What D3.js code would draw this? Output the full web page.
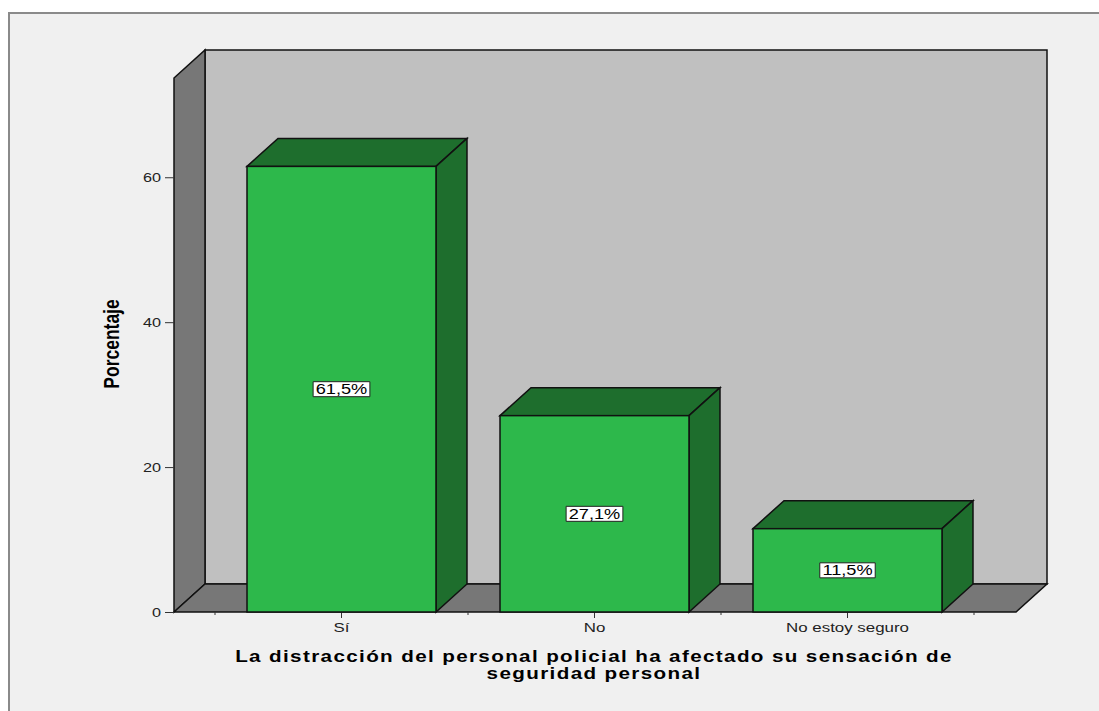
<!DOCTYPE html>
<head>
  <script src="https://cdn.jsdelivr.net/npm/d3@7"></script>
  <style>
    html, body { margin: 0; background: #fff; }
    svg { display: block; }
    .tick text { font-family: "Liberation Sans", Arial, sans-serif; font-size: 13px; fill: #222; }
  </style>
</head>
<body>
<div id="chart"></div>
<script>
  // data
  const categories = ["Sí", "No", "No estoy seguro"];
  const percents = [61.5, 27.1, 11.5];
  const valueLabels = ["61,5%", "27,1%", "11,5%"];
  const yTicks = [0, 20, 40, 60];
  const xTitle = ["La distracción del personal policial ha afectado su sensación de", "seguridad personal"];
  const yTitle = "Porcentaje";

  const width = 1099, height = 711;
  const plotL = 174, plotR = 1016, plotT = 78, plotB = 612;
  const dx = 31, dy = 28; // 3d depth offset
  const stretch = 1.3;    // the original render is widened horizontally

  const svg = d3.select("#chart").append("svg").attr("width", width).attr("height", height);

  // outer panel
  svg.append("rect").attr("x", 9).attr("y", 13).attr("width", width).attr("height", height)
    .attr("fill", "#f0f0f0").attr("stroke", "#8a8a8a").attr("stroke-width", 2);

  const y = d3.scaleLinear().domain([0, 73.7]).range([plotB, plotT]);
  const x = d3.scaleBand().domain(categories).range([215, 974]).padding(0);
  const barW = x.bandwidth() * 0.747;

  const stroke = "#111";
  // back wall
  svg.append("rect").attr("x", plotL + dx).attr("y", plotT - dy)
    .attr("width", plotR - plotL).attr("height", plotB - plotT)
    .attr("fill", "#c0c0c0").attr("stroke", stroke).attr("stroke-width", 1.5);
  // side wall
  svg.append("polygon")
    .attr("points", [[plotL, plotT], [plotL + dx, plotT - dy], [plotL + dx, plotB - dy], [plotL, plotB]].join(" "))
    .attr("fill", "#777").attr("stroke", stroke).attr("stroke-width", 1.5);
  // floor
  svg.append("polygon")
    .attr("points", [[plotL, plotB], [plotL + dx, plotB - dy], [plotR + dx, plotB - dy], [plotR, plotB]].join(" "))
    .attr("fill", "#777").attr("stroke", stroke).attr("stroke-width", 1.5);

  // y axis
  const yAxis = svg.append("g").attr("transform", `translate(${plotL},0)`)
    .call(d3.axisLeft(y).tickValues(yTicks).tickSize(9).tickPadding(0));
  yAxis.select(".domain").remove();
  yAxis.selectAll(".tick line").attr("stroke", "#333");
  yAxis.selectAll(".tick text").attr("x", -13 / stretch).attr("transform", `scale(${stretch},1)`)
    .style("font-size", "12.5px");

  // x axis: category ticks and band boundary ticks
  const xAxis = svg.append("g").attr("transform", `translate(0,${plotB})`)
    .call(d3.axisBottom(x).tickSize(6).tickPadding(5));
  xAxis.select(".domain").remove();
  xAxis.selectAll(".tick line").attr("stroke", "#333");
  xAxis.selectAll(".tick text").attr("transform", `scale(${stretch},1)`);
  svg.append("g").selectAll("line")
    .data(categories.map(c => x(c)).concat([x(categories[categories.length - 1]) + x.bandwidth()]))
    .join("line")
    .attr("x1", d => d).attr("x2", d => d)
    .attr("y1", plotB).attr("y2", plotB + 3)
    .attr("stroke", "#333");

  // bars
  const bars = svg.append("g").selectAll("g").data(categories).join("g");
  const bx = c => x(c) + (x.bandwidth() - barW) / 2;
  const by = (c, i) => y(percents[i]);
  bars.append("polygon")
    .attr("points", (c, i) => [[bx(c), by(c, i)], [bx(c) + dx, by(c, i) - dy], [bx(c) + barW + dx, by(c, i) - dy], [bx(c) + barW, by(c, i)]].join(" "))
    .attr("fill", "#1e6e2d").attr("stroke", stroke).attr("stroke-width", 1.5);
  bars.append("polygon")
    .attr("points", (c, i) => [[bx(c) + barW, by(c, i)], [bx(c) + barW + dx, by(c, i) - dy], [bx(c) + barW + dx, plotB - dy], [bx(c) + barW, plotB]].join(" "))
    .attr("fill", "#1e6e2d").attr("stroke", stroke).attr("stroke-width", 1.5);
  bars.append("rect")
    .attr("x", bx).attr("y", by)
    .attr("width", barW).attr("height", (c, i) => plotB - y(percents[i]))
    .attr("fill", "#2db84b").attr("stroke", stroke).attr("stroke-width", 1.5);

  // value labels
  bars.each(function(c, i) {
    const cx = bx(c) + barW / 2, cy = y(percents[i] / 2);
    const g = d3.select(this).append("g").attr("transform", `translate(${cx},${cy}) scale(${stretch},1)`);
    const t = g.append("text").attr("dy", "0.36em")
      .attr("text-anchor", "middle")
      .style("font-family", "Liberation Sans, Arial, sans-serif").style("font-size", "14px")
      .text(valueLabels[i]);
    const bb = t.node().getBBox();
    g.insert("rect", "text")
      .attr("x", bb.x - 2).attr("y", -7.5).attr("width", bb.width + 4).attr("height", 15)
      .attr("fill", "#fff").attr("stroke", "#222").attr("stroke-width", 1)
      .attr("vector-effect", "non-scaling-stroke");
  });

  // titles
  svg.append("text").attr("transform", `translate(119,344) scale(${stretch},1) rotate(-90)`)
    .attr("text-anchor", "middle")
    .style("font-family", "Liberation Sans, Arial, sans-serif")
    .style("font-weight", "bold").style("font-size", "17.5px")
    .text(yTitle);
  svg.append("g").attr("transform", `translate(594,0) scale(${stretch - 0.05},1)`)
    .selectAll("text").data(xTitle).join("text")
    .attr("x", 0).attr("y", (d, i) => 662 + i * 17)
    .attr("text-anchor", "middle")
    .style("font-family", "Liberation Sans, Arial, sans-serif")
    .style("font-weight", "bold").style("font-size", "16.5px")
    .style("letter-spacing", "1.1px")
    .text(d => d);
</script>
</body>
